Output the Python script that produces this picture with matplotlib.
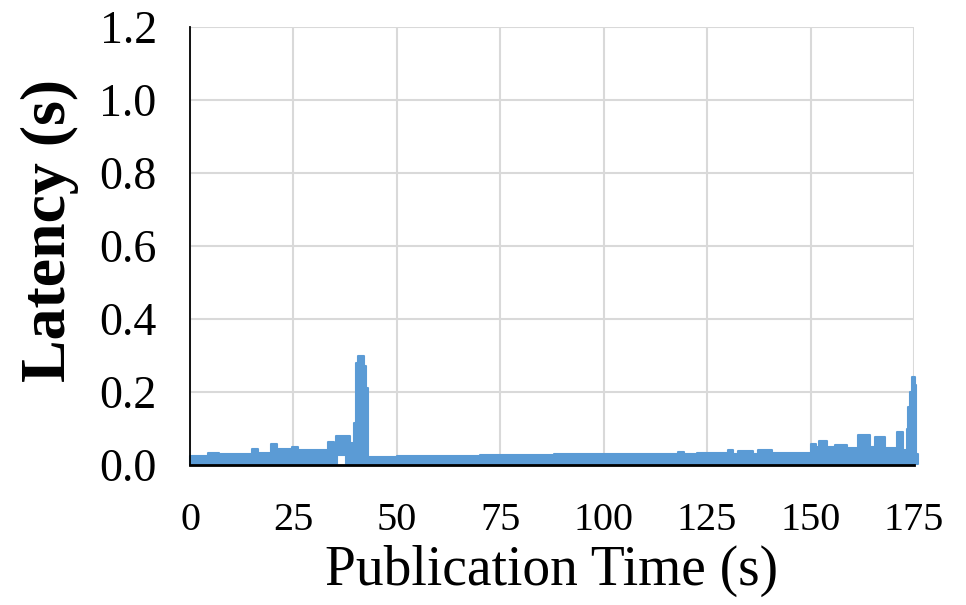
import matplotlib
matplotlib.use("Agg")
import matplotlib.pyplot as plt
import numpy as np

# Latency band: step breakpoints (s), upper and lower latency envelope (s)
pub_time = [0.0, 4.3, 7.0, 15.0, 16.5, 19.6, 21.0, 24.7, 26.0, 33.4, 34.8, 35.3,
            35.5, 37.7, 38.7, 39.6, 40.2, 40.7, 42.1, 42.5, 43.0, 50.0, 70.0,
            88.0, 118.0, 119.5, 122.5, 130.0, 131.3, 132.5, 136.0, 137.3, 140.7,
            150.0, 151.4, 152.0, 154.0, 156.0, 158.8, 161.5, 164.4, 165.6, 168.0,
            171.0, 172.4, 173.2, 173.6, 174.0, 174.4, 175.2, 175.6, 175.9]
latency_max = [0.025, 0.033, 0.030, 0.044, 0.034, 0.057, 0.044, 0.049, 0.041, 0.064,
               0.055, 0.080, 0.080, 0.080, 0.060, 0.115, 0.280, 0.300, 0.270, 0.210,
               0.023, 0.024, 0.027, 0.029, 0.036, 0.030, 0.034, 0.041, 0.031, 0.037,
               0.031, 0.040, 0.032, 0.057, 0.050, 0.066, 0.050, 0.054, 0.046, 0.082,
               0.050, 0.078, 0.047, 0.090, 0.040, 0.100, 0.160, 0.200, 0.240, 0.220,
               0.030, 0.030]
latency_min = [0.003, 0.003, 0.003, 0.003, 0.003, 0.003, 0.003, 0.003, 0.003, 0.003,
               0.003, 0.003, 0.027, 0.003, 0.003, 0.003, 0.003, 0.003, 0.003, 0.003,
               0.003, 0.003, 0.003, 0.003, 0.003, 0.003, 0.003, 0.003, 0.003, 0.003,
               0.003, 0.003, 0.003, 0.003, 0.003, 0.003, 0.003, 0.003, 0.003, 0.003,
               0.003, 0.003, 0.003, 0.003, 0.003, 0.003, 0.003, 0.003, 0.003, 0.003,
               0.003, 0.003]

x_ticks = [0, 25, 50, 75, 100, 125, 150, 175]
y_ticks = [0.0, 0.2, 0.4, 0.6, 0.8, 1.0, 1.2]

blue = "#5B9BD5"
serif = "Liberation Serif"

fig = plt.figure(figsize=(9.66, 6.05), dpi=100)
ax = fig.add_axes([190 / 966, 1 - 465 / 605, (914 - 190) / 966, (465 - 27) / 605])

ax.fill_between(pub_time, latency_min, latency_max, step="post",
                facecolor=blue, edgecolor=blue, linewidth=1.5, clip_on=False, zorder=3)

ax.set_xlim(0, 175)
ax.set_ylim(0, 1.2)
ax.set_xticks(x_ticks)
ax.set_yticks(y_ticks)
ax.set_xticklabels([str(v) for v in x_ticks], fontsize=29, family=serif)
ax.set_yticklabels([f"{v:.1f}" for v in y_ticks], fontsize=33, family=serif)
ax.tick_params(axis="both", length=0)
ax.tick_params(axis="y", pad=24)
ax.tick_params(axis="x", pad=27)

ax.grid(True, color="#d9d9d9", linewidth=1.5)
ax.set_axisbelow(True)
for side in ("top", "right"):
    ax.spines[side].set_visible(False)
ax.spines["left"].set_color("black")
ax.spines["left"].set_linewidth(1.3)
ax.spines["bottom"].set_color("black")
ax.spines["bottom"].set_linewidth(2.0)
ax.spines["left"].set_zorder(4)
ax.spines["bottom"].set_zorder(4)

ax.set_xlabel("Publication Time (s)", fontsize=40, family=serif, labelpad=4)
fig.text(50 / 966, 1 - 230 / 605, "Latency (s)", rotation=90, fontsize=46,
         family=serif, fontweight="bold", ha="center", va="center")

fig.savefig("out.png", dpi=100)
